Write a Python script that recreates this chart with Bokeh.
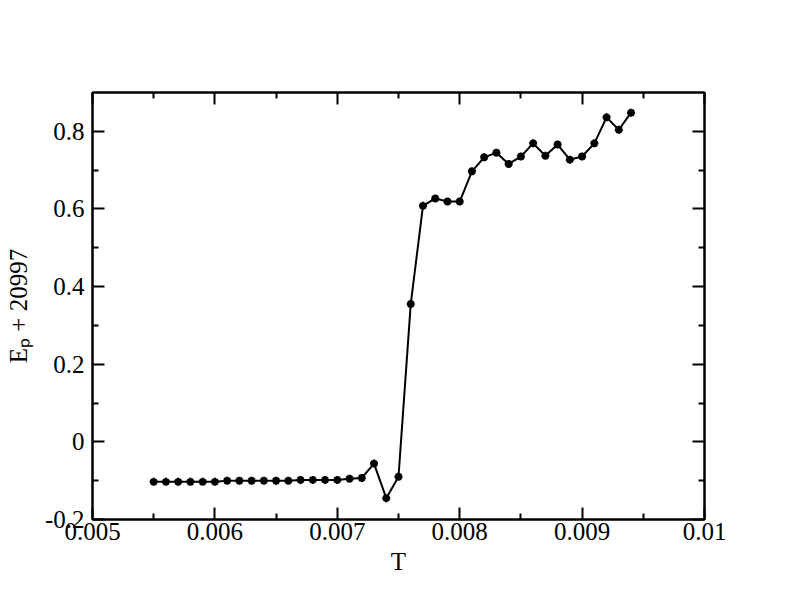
import numpy as np
from bokeh.plotting import figure
from bokeh.models import (Range1d, LinearAxis, FixedTicker, CustomJSTickFormatter)
from bokeh.embed import file_html
from bokeh.resources import INLINE

# ---- data ----
T = [0.0055, 0.0056, 0.0057, 0.0058, 0.0059, 0.0060, 0.0061, 0.0062, 0.0063, 0.0064,
     0.0065, 0.0066, 0.0067, 0.0068, 0.0069, 0.0070, 0.0071, 0.0072, 0.0073, 0.0074,
     0.0075, 0.0076, 0.0077, 0.0078, 0.0079, 0.0080, 0.0081, 0.0082, 0.0083, 0.0084,
     0.0085, 0.0086, 0.0087, 0.0088, 0.0089, 0.0090, 0.0091, 0.0092, 0.0093, 0.0094]
Ep = [-0.103, -0.103, -0.103, -0.103, -0.103, -0.103, -0.100, -0.100, -0.100, -0.100,
      -0.100, -0.100, -0.098, -0.098, -0.098, -0.098, -0.095, -0.093, -0.056, -0.145,
      -0.090, 0.355, 0.608, 0.627, 0.619, 0.619, 0.697, 0.733, 0.745, 0.716,
      0.735, 0.769, 0.737, 0.766, 0.727, 0.735, 0.769, 0.836, 0.804, 0.848]

x_ticks = [0.005, 0.006, 0.007, 0.008, 0.009, 0.01]
x_tick_labels = ["0.005", "0.006", "0.007", "0.008", "0.009", "0.01"]
x_minor = [0.0055, 0.0065, 0.0075, 0.0085, 0.0095]
y_ticks = [-0.2, 0.0, 0.2, 0.4, 0.6, 0.8]
y_tick_labels = ["-0.2", "0", "0.2", "0.4", "0.6", "0.8"]
y_minor = [-0.1, 0.1, 0.3, 0.5, 0.7]
x_label = "T"
y_label = "E\u209a + 20997"

FONT = "Liberation Serif"
W, H = 784, 596

p = figure(width=W, height=H, output_backend="svg", toolbar_location=None,
           x_range=Range1d(0.005, 0.01), y_range=Range1d(-0.2, 0.9),
           min_border_left=92, min_border_right=80, min_border_top=92, min_border_bottom=77,
           x_axis_location=None, y_axis_location=None)
p.grid.visible = False
p.outline_line_color = "black"
p.outline_line_width = 2
p.background_fill_color = "white"
p.border_fill_color = "white"

blank = CustomJSTickFormatter(code="return ''")

def style_axis(ax, ticks, minor, overrides, show):
    ax.ticker = FixedTicker(ticks=ticks, minor_ticks=minor)
    ax.axis_line_width = 2
    ax.axis_line_color = "black"
    ax.major_tick_in = 12
    ax.major_tick_out = 0
    ax.minor_tick_in = 6
    ax.minor_tick_out = 0
    ax.major_tick_line_width = 2
    ax.minor_tick_line_width = 2
    ax.major_label_text_font = FONT
    ax.major_label_text_font_size = "25px"
    ax.major_label_text_color = "black"
    ax.axis_label_text_font = FONT
    ax.axis_label_text_font_size = "25px"
    ax.axis_label_text_font_style = "normal"
    ax.axis_label_text_color = "black"
    if show:
        ax.major_label_overrides = overrides
    else:
        ax.formatter = blank

xo = {t: l for t, l in zip(x_ticks, x_tick_labels)}
yo = {t: l for t, l in zip(y_ticks, y_tick_labels)}

xb = LinearAxis(); style_axis(xb, x_ticks, x_minor, xo, True)
xb.major_label_standoff = 3
xb.axis_label = x_label
xb.axis_label_standoff = 5
p.add_layout(xb, "below")

xt = LinearAxis(); style_axis(xt, x_ticks, x_minor, xo, False)
p.add_layout(xt, "above")

yl = LinearAxis(); style_axis(yl, y_ticks, y_minor, yo, True)
yl.major_label_standoff = 8
yl.axis_label = y_label
yl.axis_label_standoff = 10
p.add_layout(yl, "left")

yr = LinearAxis(); style_axis(yr, y_ticks, y_minor, yo, False)
p.add_layout(yr, "right")

p.line(T, Ep, line_color="black", line_width=2)
p.scatter(T, Ep, marker="asterisk", size=8, line_color="black", line_width=2.5)
p.scatter(T, Ep, marker="circle", size=4, line_color="black", fill_color="black")

open("out.html", "w").write(file_html(p, INLINE))
